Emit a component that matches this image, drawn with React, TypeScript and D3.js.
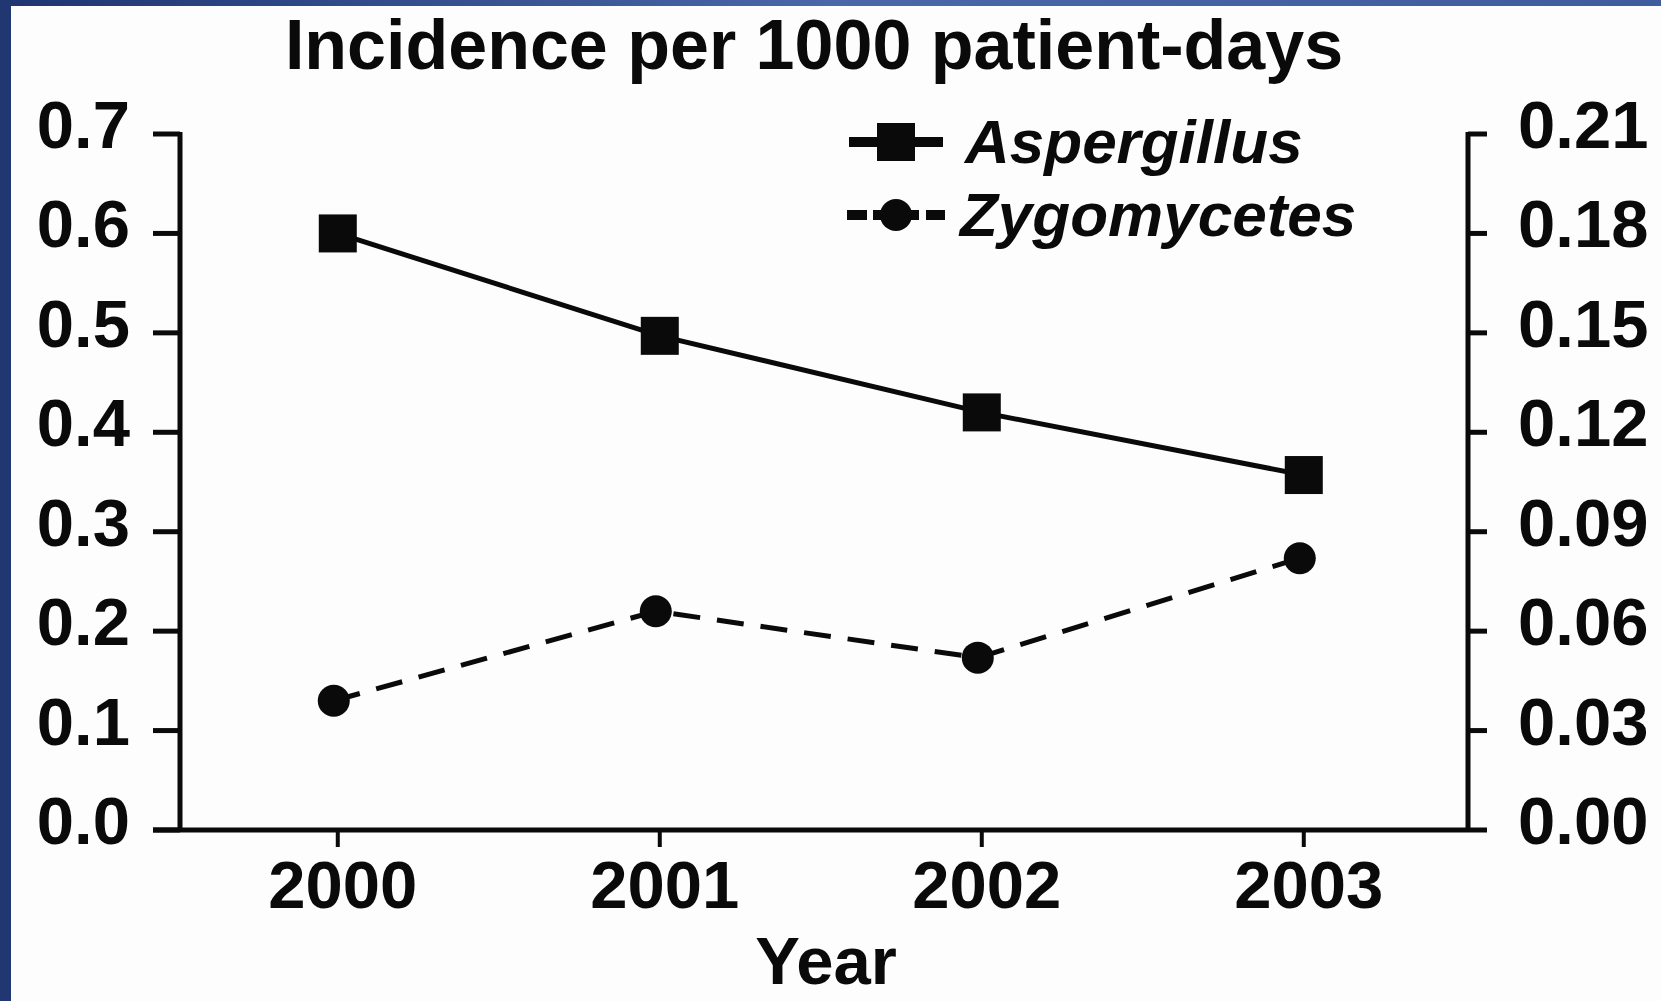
import * as d3 from "d3";

const W = 1661;
const H = 1001;

const years = [2000, 2001, 2002, 2003];
const aspergillus = [0.6, 0.497, 0.42, 0.357];
const zygomycetes = [0.039, 0.066, 0.052, 0.082];
const leftTicks = [0.0, 0.1, 0.2, 0.3, 0.4, 0.5, 0.6, 0.7];
const rightTicks = [0.0, 0.03, 0.06, 0.09, 0.12, 0.15, 0.18, 0.21];

const TITLE = "Incidence per 1000 patient-days";
const X_LABEL = "Year";
const SERIES = ["Aspergillus", "Zygomycetes"];

const FONT = "'Liberation Sans', Arial, Helvetica, sans-serif";
const PLOT = { left: 180, right: 1468, top: 134, bottom: 830 };
const INK = "#0a0a0a";

export default function App() {
  const x = d3.scaleLinear().domain([1999.51, 2003.51]).range([PLOT.left, PLOT.right]);
  const yL = d3.scaleLinear().domain([0, 0.7]).range([PLOT.bottom, PLOT.top]);
  const yR = d3.scaleLinear().domain([0, 0.21]).range([PLOT.bottom, PLOT.top]);

  const aspLine = d3
    .line<number>()
    .x((_, i) => x(years[i]))
    .y((d) => yL(d))(aspergillus);
  const zygLine = d3
    .line<number>()
    .x((_, i) => x(years[i]) - 4)
    .y((d) => yR(d))(zygomycetes);

  const sq = 38;
  const r = 16;
  const tickFont = 67;

  return (
    <svg
      width={W}
      height={H}
      style={{ position: "absolute", left: 0, top: 0, display: "block" }}
      fontFamily={FONT}
    >
      <defs>
        <linearGradient id="frame" x1="0" y1="0" x2="1" y2="0">
          <stop offset="0" stopColor="#1f3571" />
          <stop offset="0.5" stopColor="#4a67a8" />
          <stop offset="1" stopColor="#3f5c9e" />
        </linearGradient>
      </defs>
      <rect x={0} y={0} width={W} height={H} fill="url(#frame)" />
      <rect x={0} y={0} width={11} height={H} fill="#203772" />
      <rect x={11} y={6} width={W - 11} height={H - 6} fill="#fdfdfd" />

      {/* title */}
      <text x={814} y={69} textAnchor="middle" fontSize={70} fontWeight="bold" fill={INK}>
        {TITLE}
      </text>

      {/* left axis */}
      <line x1={PLOT.left} x2={PLOT.left} y1={PLOT.top - 2} y2={PLOT.bottom + 2} stroke={INK} strokeWidth={5} />
      {leftTicks.map((t) => (
        <g key={"l" + t}>
          <line x1={153} x2={PLOT.left} y1={yL(t)} y2={yL(t)} stroke={INK} strokeWidth={5} />
          <text x={130} y={yL(t) + 14} textAnchor="end" fontSize={tickFont} fontWeight="bold" fill={INK}>
            {d3.format(".1f")(t)}
          </text>
        </g>
      ))}

      {/* right axis */}
      <line x1={PLOT.right} x2={PLOT.right} y1={PLOT.top - 2} y2={PLOT.bottom + 2} stroke={INK} strokeWidth={5} />
      {rightTicks.map((t) => (
        <g key={"r" + t}>
          <line x1={PLOT.right} x2={1487} y1={yR(t)} y2={yR(t)} stroke={INK} strokeWidth={5} />
          <text x={1518} y={yR(t) + 14} textAnchor="start" fontSize={tickFont} fontWeight="bold" fill={INK}>
            {d3.format(".2f")(t)}
          </text>
        </g>
      ))}

      {/* x axis */}
      <line x1={153} x2={PLOT.right} y1={PLOT.bottom} y2={PLOT.bottom} stroke={INK} strokeWidth={5} />
      {years.map((yr) => (
        <g key={yr}>
          <line x1={x(yr)} x2={x(yr)} y1={PLOT.bottom} y2={847} stroke={INK} strokeWidth={4} />
          <text x={x(yr) + 5} y={908} textAnchor="middle" fontSize={tickFont} fontWeight="bold" fill={INK}>
            {yr}
          </text>
        </g>
      ))}
      <text x={826} y={984} textAnchor="middle" fontSize={67} fontWeight="bold" fill={INK}>
        {X_LABEL}
      </text>

      {/* series */}
      <path d={aspLine ?? ""} fill="none" stroke={INK} strokeWidth={5} />
      {aspergillus.map((v, i) => (
        <rect key={"a" + i} x={x(years[i]) - sq / 2} y={yL(v) - sq / 2} width={sq} height={sq} fill={INK} />
      ))}
      <path d={zygLine ?? ""} fill="none" stroke={INK} strokeWidth={5} strokeDasharray="27,17" />
      {zygomycetes.map((v, i) => (
        <circle key={"z" + i} cx={x(years[i]) - 4} cy={yR(v)} r={r} fill={INK} />
      ))}

      {/* legend */}
      <g>
        <line x1={849} x2={943} y1={142} y2={142} stroke={INK} strokeWidth={10} />
        <rect x={896 - 19} y={142 - 19} width={38} height={38} fill={INK} />
        <text x={965} y={163} fontSize={62} fontWeight="bold" fontStyle="italic" fill={INK}>
          {SERIES[0]}
        </text>
        <line x1={847} x2={867} y1={215} y2={215} stroke={INK} strokeWidth={10} />
        <line x1={873} x2={919} y1={215} y2={215} stroke={INK} strokeWidth={10} />
        <line x1={926} x2={945} y1={215} y2={215} stroke={INK} strokeWidth={10} />
        <circle cx={896} cy={215} r={16} fill={INK} />
        <text x={960} y={236} fontSize={62} fontWeight="bold" fontStyle="italic" fill={INK}>
          {SERIES[1]}
        </text>
      </g>
    </svg>
  );
}
